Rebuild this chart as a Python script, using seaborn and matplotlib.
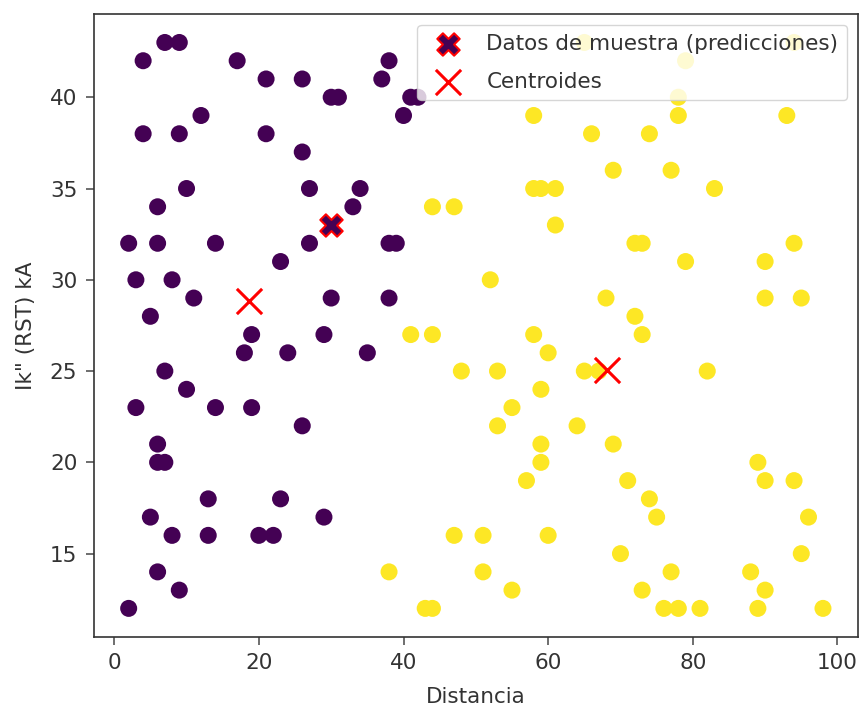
import matplotlib
matplotlib.use("Agg")
import matplotlib.pyplot as plt
import seaborn as sns
import pandas as pd

# Cluster 0 (purple)
c0_x = [7, 9, 4, 17, 38, 21, 26, 37, 30, 31, 41, 42, 40, 12, 4, 9, 21, 26, 10, 6, 27, 34, 33,
        27, 38, 39, 2, 6, 14, 23, 3, 8, 11, 30, 38, 5, 19, 29, 18, 24, 35, 7, 10, 3, 14, 19,
        26, 6, 6, 7, 13, 23, 5, 29, 8, 13, 20, 22, 6, 9, 2]
c0_y = [43, 43, 42, 42, 42, 41, 41, 41, 40, 40, 40, 40, 39, 39, 38, 38, 38, 37, 35, 34, 35, 35, 34,
        32, 32, 32, 32, 32, 32, 31, 30, 30, 29, 29, 29, 28, 27, 27, 26, 26, 26, 25, 24, 23, 23, 23,
        22, 21, 20, 20, 18, 18, 17, 17, 16, 16, 16, 16, 14, 13, 12]
# Cluster 1 (yellow)
c1_x = [65, 94, 79, 78, 58, 78, 93, 66, 74, 69, 77, 58, 59, 61, 83, 44, 47, 61, 72, 73, 94, 79, 90,
        52, 68, 90, 95, 72, 41, 44, 58, 73, 60, 48, 53, 65, 67, 82, 59, 55, 53, 64, 59, 69, 59,
        89, 57, 71, 90, 94, 74, 75, 96, 47, 51, 60, 70, 95, 38, 51, 77, 88, 55, 73, 90, 43, 44,
        76, 78, 81, 89, 98]
c1_y = [43, 43, 42, 40, 39, 39, 39, 38, 38, 36, 36, 35, 35, 35, 35, 34, 34, 33, 32, 32, 32, 31, 31,
        30, 29, 29, 29, 28, 27, 27, 27, 27, 26, 25, 25, 25, 25, 25, 24, 23, 22, 22, 21, 21, 20,
        20, 19, 19, 19, 19, 18, 17, 17, 16, 16, 16, 15, 15, 14, 14, 14, 14, 13, 13, 13, 12, 12,
        12, 12, 12, 12, 12]

sample_x = [30]
sample_y = [33]
centroid_x = [18.6, 68.2]
centroid_y = [28.86, 25.05]

df = pd.DataFrame({
    "Distancia": c0_x + c1_x,
    "Ik": c0_y + c1_y,
    "cluster": [0] * len(c0_x) + [1] * len(c1_x),
})

plt.rcParams["font.family"] = ["DejaVu Sans"]
FS = 15.5
plt.rcParams["font.size"] = FS

fig = plt.figure(figsize=(8.62, 7.09), dpi=100)
ax = fig.add_axes([0.109, 0.102, 0.886, 0.878])

sns.scatterplot(data=df, x="Distancia", y="Ik", hue="cluster",
                palette={0: "#440154", 1: "#fde725"}, s=150, linewidth=0,
                legend=False, ax=ax)
ax.scatter(sample_x, sample_y, marker="X", s=260, c="#440154",
           edgecolors="red", linewidths=1.5, label="Datos de muestra (predicciones)")
ax.scatter(centroid_x, centroid_y, marker="x", s=330, c="red", linewidths=2.2,
           label="Centroides")

ax.set_xlabel("Distancia", fontsize=FS, color="#333333", labelpad=10)
ax.set_ylabel('Ik" (RST) kA', fontsize=FS, color="#333333", labelpad=10)
ax.tick_params(labelsize=FS, length=6, width=1.2, pad=6, labelcolor="#333333", color="#555555")
for sp in ax.spines.values():
    sp.set_linewidth(1.2)
    sp.set_color("#333333")
leg = ax.legend(loc="upper right", fontsize=FS, labelspacing=0.85)
for t in leg.get_texts():
    t.set_color("#333333")

fig.savefig("out.png", dpi=100)
